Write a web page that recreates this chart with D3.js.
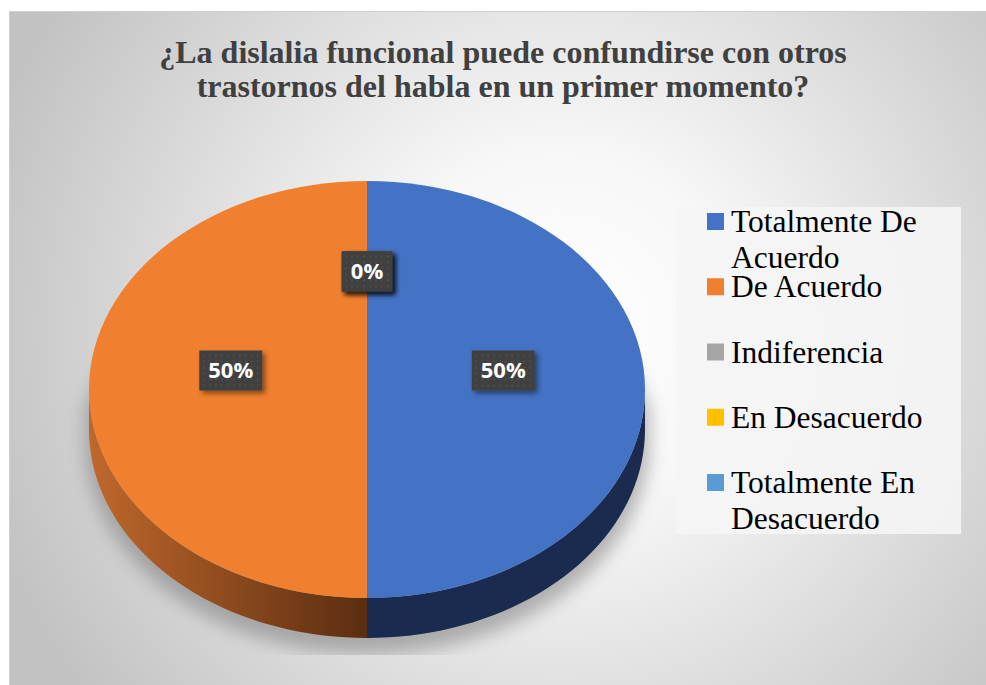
<!DOCTYPE html>
<html>
<head>
<meta charset="utf-8">
<script src="https://cdn.jsdelivr.net/npm/d3@7"></script>
<style>
  html, body { margin: 0; padding: 0; background: #fff; }
  svg { display: block; }
</style>
</head>
<body>
<svg id="chart" width="986" height="685"></svg>
<script>
const title = ["¿La dislalia funcional puede confundirse con otros", "trastornos del habla en un primer momento?"];
const categories = ["Totalmente De Acuerdo", "De Acuerdo", "Indiferencia", "En Desacuerdo", "Totalmente En Desacuerdo"];
const values = [50, 50, 0, 0, 0];
const colors = ["#4472c4", "#f0802f", "#a5a5a5", "#ffc000", "#5b9bd5"];
const sideColors = ["#1b2b4f", "url(#orangeSide)", "#5a5a5a", "#7f6000", "#2e4e6b"];

const width = 986, height = 685;
const svg = d3.select("#chart");
const defs = svg.append("defs");

// fondo radial
const bg = defs.append("radialGradient").attr("id", "bgGrad")
  .attr("gradientUnits", "userSpaceOnUse")
  .attr("cx", 560).attr("cy", 330).attr("r", 600);
bg.append("stop").attr("offset", 0).attr("stop-color", "#ffffff");
bg.append("stop").attr("offset", 0.3).attr("stop-color", "#f7f7f7");
bg.append("stop").attr("offset", 1).attr("stop-color", "#c2c2c2");

const side = defs.append("linearGradient").attr("id", "orangeSide")
  .attr("gradientUnits", "userSpaceOnUse")
  .attr("x1", 88).attr("x2", 367).attr("y1", 0).attr("y2", 0);
side.append("stop").attr("offset", 0).attr("stop-color", "#c0682c");
side.append("stop").attr("offset", 1).attr("stop-color", "#5a2d10");

defs.append("filter").attr("id", "blur")
  .attr("x", "-20%").attr("y", "-20%").attr("width", "140%").attr("height", "140%")
  .append("feGaussianBlur").attr("stdDeviation", 9);

const lblShadow = defs.append("filter").attr("id", "lblShadow")
  .attr("x", "-30%").attr("y", "-30%").attr("width", "160%").attr("height", "160%");
lblShadow.append("feDropShadow").attr("dx", 3).attr("dy", 3).attr("stdDeviation", 2.5)
  .attr("flood-color", "#000").attr("flood-opacity", 0.45);

const dots = defs.append("pattern").attr("id", "dots")
  .attr("patternUnits", "userSpaceOnUse").attr("width", 6).attr("height", 6);
dots.append("rect").attr("width", 6).attr("height", 6).attr("fill", "#404040");
dots.append("rect").attr("x", 2).attr("y", 2).attr("width", 2).attr("height", 2).attr("fill", "#4d4d4d");

defs.append("clipPath").attr("id", "shadowClip")
  .append("rect").attr("x", 68).attr("y", 160).attr("width", 600).attr("height", 495);

// marco del gráfico
svg.append("rect")
  .attr("x", 9.5).attr("y", 11.5).attr("width", width - 9).attr("height", height - 11)
  .attr("fill", "url(#bgGrad)").attr("stroke", "#d0d0d0");

// título
svg.append("text")
  .attr("x", 503).attr("y", 63)
  .attr("text-anchor", "middle")
  .attr("font-family", "'Liberation Serif', 'Times New Roman', serif")
  .attr("font-weight", "bold").attr("font-size", 32).attr("fill", "#404040")
  .selectAll("tspan").data(title).join("tspan")
  .attr("x", 503).attr("dy", (d, i) => i ? 34 : 0)
  .text(d => d);

// pastel 3D
const cx = 367, cy = 389.5, rx = 278, ry = 208.5, depth = 40;
const pie = d3.pie().sort(null).value(d => d);
const arcs = pie(values);
const arc = d3.arc().innerRadius(0).outerRadius(1);
const labelArc = d3.arc().innerRadius(0).outerRadius(0.98);

const px = a => cx + rx * Math.sin(a);
const py = a => cy - ry * Math.cos(a);

function sidePath(a0, a1) {
  const s = Math.max(a0, Math.PI / 2), e = Math.min(a1, Math.PI * 1.5);
  if (e <= s) return null;
  const p = d3.path();
  p.moveTo(px(s), py(s));
  const steps = 40;
  for (let i = 1; i <= steps; i++) {
    const a = s + (e - s) * i / steps;
    p.lineTo(px(a), py(a));
  }
  for (let i = steps; i >= 0; i--) {
    const a = s + (e - s) * i / steps;
    p.lineTo(px(a), py(a) + depth);
  }
  p.closePath();
  return p.toString();
}

// sombra
const sh = svg.append("g").attr("clip-path", "url(#shadowClip)")
  .append("g").attr("filter", "url(#blur)").attr("opacity", 0.55);
sh.append("ellipse").attr("cx", cx).attr("cy", cy + depth + 12).attr("rx", rx + 4).attr("ry", ry + 4).attr("fill", "#7a7a7a");
sh.append("rect").attr("x", cx - rx - 4).attr("y", cy + 12).attr("width", 2 * rx + 8).attr("height", depth).attr("fill", "#7a7a7a");

const pieG = svg.append("g");
pieG.selectAll("path.side").data(arcs.filter(d => d.endAngle > d.startAngle)).join("path")
  .attr("class", "side")
  .attr("d", d => sidePath(d.startAngle, d.endAngle))
  .attr("fill", d => sideColors[d.index]);

pieG.append("g").attr("transform", `translate(${cx},${cy}) scale(${rx},${ry})`)
  .selectAll("path").data(arcs.filter(d => d.endAngle > d.startAngle)).join("path")
  .attr("d", arc)
  .attr("fill", d => colors[d.index]);

// etiquetas de datos
const total = d3.sum(values);
const fmt = d3.format(".0%");
const lbl = svg.append("g").selectAll("g").data(arcs).join("g")
  .attr("transform", d => {
    const [x, y] = labelArc.centroid(d);
    return `translate(${cx + x * rx},${cy - 19 + y * ry * 0.97})`;
  });
lbl.each(function (d) {
  const g = d3.select(this);
  const t = g.append("text")
    .attr("text-anchor", "middle").attr("dy", "0.36em")
    .attr("font-family", "'Open Sans', 'Noto Sans', sans-serif")
    .attr("font-weight", "bold").attr("font-size", 22).attr("fill", "#fff")
    .text(fmt(d.data / total));
  const w = t.node().getComputedTextLength() + 18;
  g.insert("rect", "text")
    .attr("x", -w / 2).attr("y", -20).attr("width", w).attr("height", 40)
    .attr("fill", "url(#dots)").attr("filter", "url(#lblShadow)");
});

// leyenda
svg.append("rect").attr("x", 676).attr("y", 207).attr("width", 285).attr("height", 327)
  .attr("fill", "#f5f5f5").attr("opacity", 0.9);

const legend = svg.append("g").selectAll("g").data(categories).join("g")
  .attr("transform", (d, i) => `translate(707,${232 + i * 65.25})`);
legend.append("rect").attr("x", 0).attr("y", -19).attr("width", 17).attr("height", 17)
  .attr("fill", (d, i) => colors[i]);
legend.append("text")
  .attr("x", 24).attr("y", 0)
  .attr("font-family", "'Liberation Serif', 'Times New Roman', serif")
  .attr("font-size", 31.5).attr("fill", "#000")
  .each(function (d) {
    const t = d3.select(this);
    const words = d.split(" ");
    let line = [], lines = [];
    t.text(d);
    if (this.getComputedTextLength() <= 228) { lines = [d]; }
    else {
      words.forEach(w => {
        t.text([...line, w].join(" "));
        if (line.length && this.getComputedTextLength() > 228) { lines.push(line.join(" ")); line = [w]; }
        else line.push(w);
      });
      lines.push(line.join(" "));
    }
    t.text(null);
    t.selectAll("tspan").data(lines).join("tspan")
      .attr("x", 24).attr("dy", (l, i) => i ? 36 : 0).text(l => l);
  });
</script>
</body>
</html>
